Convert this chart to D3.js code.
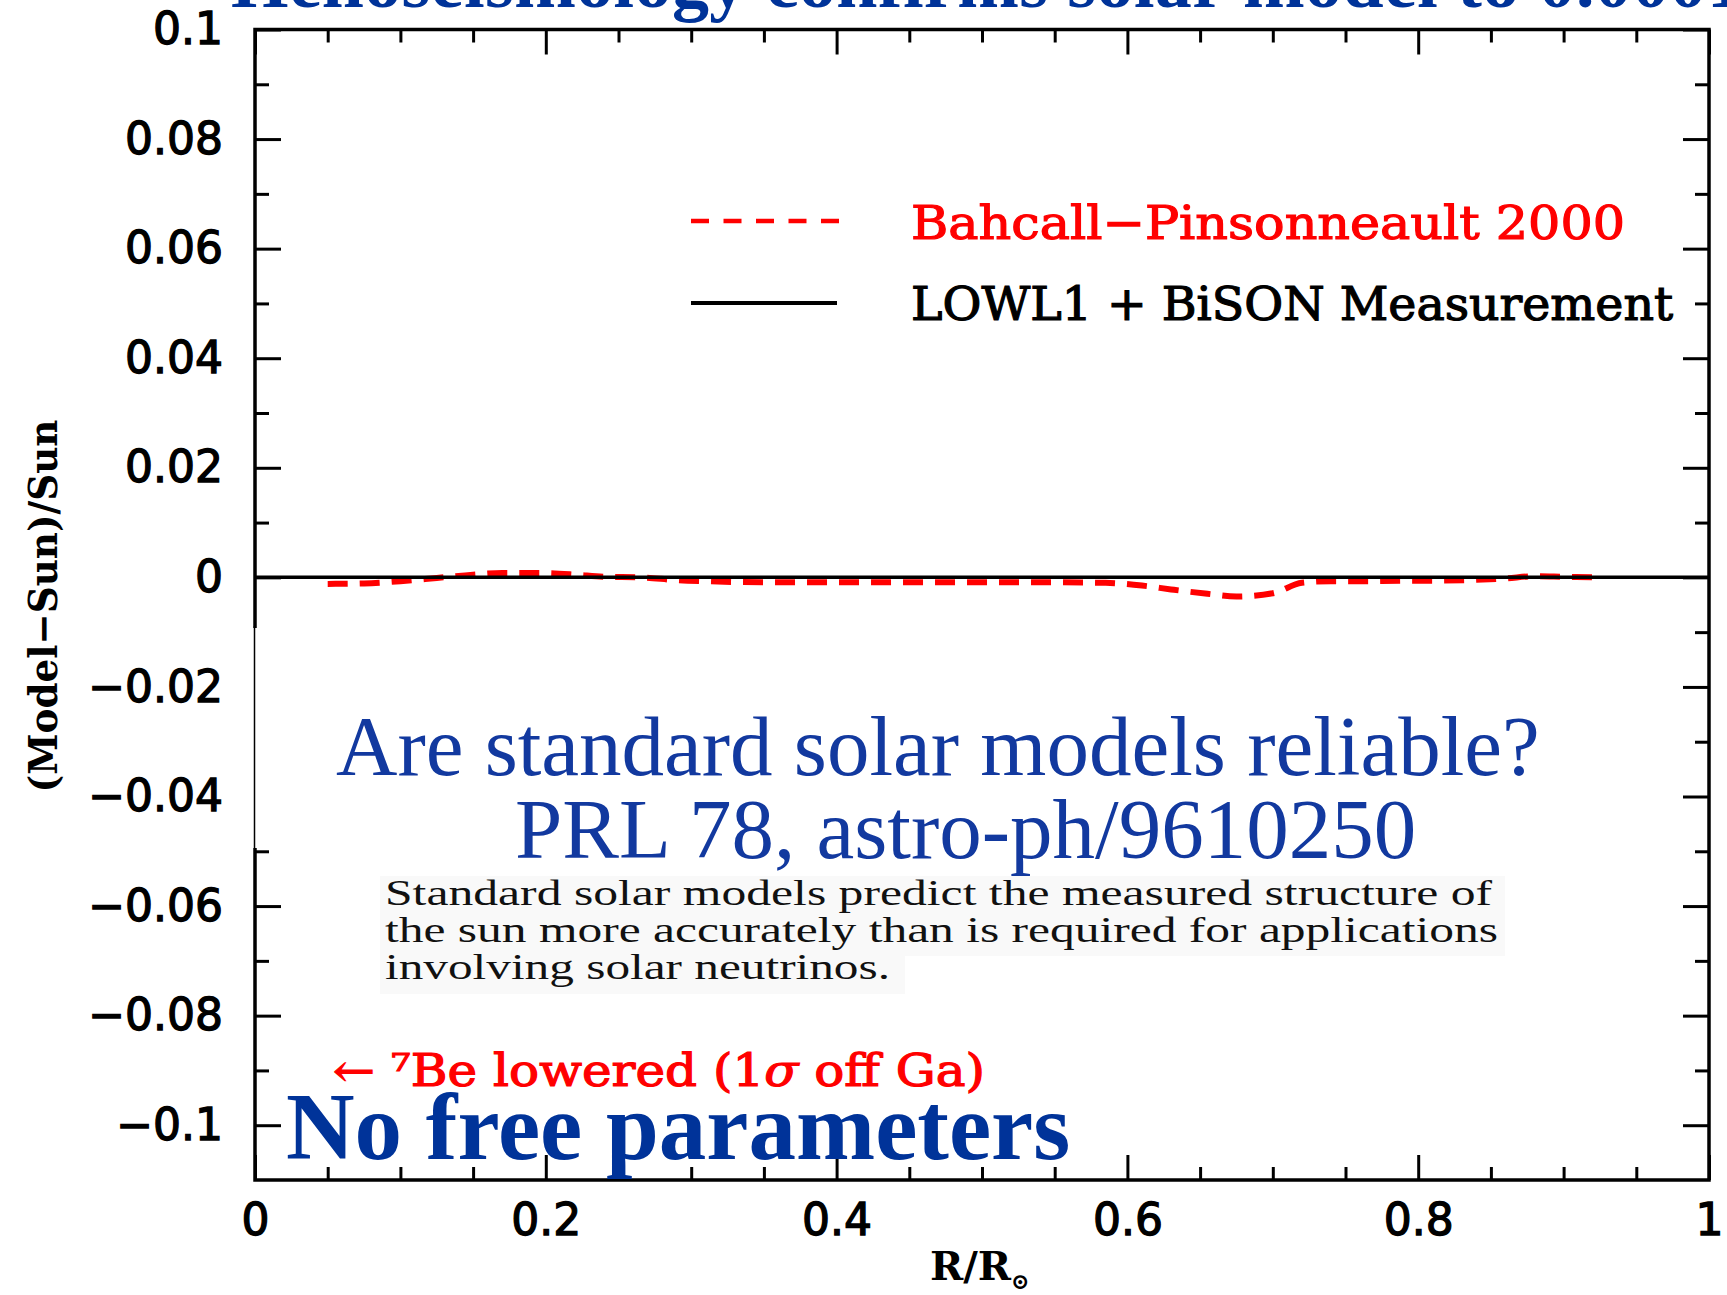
<!DOCTYPE html>
<html><head><meta charset="utf-8">
<script src="https://cdn.jsdelivr.net/npm/d3@7"></script>
<style>html,body{margin:0;padding:0;background:#fff;overflow:hidden}</style>
</head><body>
<svg id="c" width="1727" height="1295"></svg>
<script>
// ---- data ----
const xMajorTicks = [0, 0.2, 0.4, 0.6, 0.8, 1];
const xTickLabels = ["0", "0.2", "0.4", "0.6", "0.8", "1"];
const xMinorTicks = [0.05, 0.1, 0.15, 0.25, 0.3, 0.35, 0.45, 0.5, 0.55, 0.65, 0.7, 0.75, 0.85, 0.9, 0.95];
const yMajorTicks = [0.1, 0.08, 0.06, 0.04, 0.02, 0, -0.02, -0.04, -0.06, -0.08, -0.1];
const yTickLabels = ["0.1", "0.08", "0.06", "0.04", "0.02", "0", "\u22120.02", "\u22120.04", "\u22120.06", "\u22120.08", "\u22120.1"];
const yMinorTicks = [0.09, 0.07, 0.05, 0.03, 0.01, -0.01, -0.03, -0.05, -0.07, -0.09];

// Bahcall-Pinsonneault 2000 model: (Model-Sun)/Sun vs R/Rsun
const bpRadius = [0.05, 0.075, 0.10, 0.125, 0.15, 0.17, 0.195, 0.22, 0.24, 0.265, 0.29, 0.31, 0.35, 0.40, 0.45, 0.50, 0.55, 0.585, 0.61, 0.63, 0.655, 0.675, 0.70, 0.72, 0.74, 0.76, 0.79, 0.81, 0.835, 0.86, 0.88, 0.90, 0.92];
const bpDelta  = [-0.0012, -0.0011, -0.0007, -0.0001, 0.0005, 0.0008, 0.0008, 0.0005, 0.0001, 0.0, -0.0005, -0.0007, -0.0009, -0.0009, -0.0009, -0.0009, -0.0009, -0.001, -0.0015, -0.0022, -0.003, -0.0035, -0.0029, -0.001, -0.0007, -0.0007, -0.0006, -0.0006, -0.0005, -0.0002, 0.0002, 0.0001, 0.0];
// LOWL1 + BiSON measurement (reference line)
const sunRadius = [0, 1];
const sunDelta  = [0, 0];

const legendLabels = ["Bahcall\u2212Pinsonneault 2000", "LOWL1 + BiSON Measurement"];

// ---- layout ----
const L = 255, R = 1709, T = 29.5, B = 1180;
const svg = d3.select("#c");
const x = d3.scaleLinear([0, 1], [L, R]);
const y = d3.scaleLinear([-0.11, 0.1], [B, T]);

const BLUE = "#003399";
const tickFont = "'DejaVu Sans', sans-serif";
const plotFont = "'DejaVu Serif', serif";
const serif = "'Liberation Serif', 'Times New Roman', serif";

// title (mostly cut off at top)
svg.append("text")
  .attr("x", 231).attr("y", 7)
  .attr("font-family", serif)
  .attr("font-weight", "bold").attr("font-size", 74)
  .attr("fill", BLUE)
  .attr("textLength", 1513).attr("lengthAdjust", "spacing")
  .text("Helioseismology confirms solar model to 0.0001");

// data lines
const line = d3.line().x(d => x(d[0])).y(d => y(d[1])).curve(d3.curveMonotoneX);
svg.append("path")
  .datum(bpRadius.map((r, i) => [r, bpDelta[i]]))
  .attr("d", line).attr("fill", "none")
  .attr("stroke", "#ff0000").attr("stroke-width", 6)
  .attr("stroke-dasharray", "20,12");
svg.append("path")
  .datum(sunRadius.map((r, i) => [r, sunDelta[i]]))
  .attr("d", d3.line().x(d => x(d[0])).y(d => y(d[1])))
  .attr("fill", "none").attr("stroke", "#000").attr("stroke-width", 3.5);

// axes
function styleAxis(g) {
  g.select(".domain").remove();
  g.selectAll(".tick line").attr("stroke", "#000").attr("stroke-width", 3);
}
function styleLabels(sel) {
  sel.attr("font-family", tickFont).attr("font-size", 44).attr("fill", "#000")
    .attr("stroke", "#000").attr("stroke-width", 1.3);
}
const gxB = svg.append("g").attr("transform", `translate(0,${B})`)
  .call(d3.axisBottom(x).tickValues(xMajorTicks).tickSize(-25).tickSizeOuter(0)
    .tickFormat((d, i) => xTickLabels[i]));
styleAxis(gxB);
gxB.selectAll(".tick text").attr("y", 55).attr("dy", 0).call(styleLabels);
svg.append("g").attr("transform", `translate(0,${B})`)
  .call(d3.axisBottom(x).tickValues(xMinorTicks).tickSize(-13).tickSizeOuter(0).tickFormat(""))
  .call(styleAxis);
svg.append("g").attr("transform", `translate(0,${T})`)
  .call(d3.axisTop(x).tickValues(xMajorTicks).tickSize(-25).tickSizeOuter(0).tickFormat(""))
  .call(styleAxis);
svg.append("g").attr("transform", `translate(0,${T})`)
  .call(d3.axisTop(x).tickValues(xMinorTicks).tickSize(-13).tickSizeOuter(0).tickFormat(""))
  .call(styleAxis);

const gyL = svg.append("g").attr("transform", `translate(${L},0)`)
  .call(d3.axisLeft(y).tickValues(yMajorTicks).tickSize(-26).tickSizeOuter(0).tickPadding(32)
    .tickFormat((d, i) => yTickLabels[i]));
styleAxis(gyL);
gyL.selectAll(".tick text").call(styleLabels);
svg.append("g").attr("transform", `translate(${L},0)`)
  .call(d3.axisLeft(y).tickValues(yMinorTicks).tickSize(-14).tickSizeOuter(0).tickFormat(""))
  .call(styleAxis);
svg.append("g").attr("transform", `translate(${R},0)`)
  .call(d3.axisRight(y).tickValues(yMajorTicks).tickSize(-26).tickSizeOuter(0).tickFormat(""))
  .call(styleAxis);
svg.append("g").attr("transform", `translate(${R},0)`)
  .call(d3.axisRight(y).tickValues(yMinorTicks).tickSize(-14).tickSizeOuter(0).tickFormat(""))
  .call(styleAxis);

// frame
svg.append("rect").attr("x", L).attr("y", T).attr("width", R - L).attr("height", B - T)
  .attr("fill", "none").attr("stroke", "#000").attr("stroke-width", 3.5);

// pasted text box hides part of the left axis
svg.append("rect").attr("x", 250).attr("y", 628).attr("width", 40).attr("height", 220).attr("fill", "#fff");
svg.append("line").attr("x1", 254.5).attr("x2", 254.5).attr("y1", 626).attr("y2", 848)
  .attr("stroke", "#000").attr("stroke-width", 1.5);

// axis titles
svg.append("text").attr("transform", "translate(57,606) rotate(-90)")
  .attr("text-anchor", "middle").attr("font-family", plotFont).attr("font-weight", "bold")
  .attr("font-size", 40).attr("textLength", 373).attr("lengthAdjust", "spacingAndGlyphs")
  .text("(Model\u2212Sun)/Sun");
const xt = svg.append("text").attr("x", 930).attr("y", 1280)
  .attr("font-family", plotFont).attr("font-weight", "bold").attr("font-size", 40);
xt.append("tspan").text("R/R");
xt.append("tspan").attr("font-size", 22).attr("dy", 9).text("\u2299");

// legend
svg.append("line").attr("x1", 691).attr("x2", 839).attr("y1", 221).attr("y2", 221)
  .attr("stroke", "#ff0000").attr("stroke-width", 4.5).attr("stroke-dasharray", "18,14.5");
svg.append("text").attr("x", 911).attr("y", 239)
  .attr("font-family", plotFont).attr("font-size", 47).attr("fill", "#ff0000")
  .attr("stroke", "#ff0000").attr("stroke-width", 1.2)
  .attr("textLength", 714).attr("lengthAdjust", "spacingAndGlyphs").text(legendLabels[0]);
svg.append("line").attr("x1", 691).attr("x2", 837).attr("y1", 303).attr("y2", 303)
  .attr("stroke", "#000").attr("stroke-width", 4);
svg.append("text").attr("x", 911).attr("y", 320)
  .attr("font-family", plotFont).attr("font-size", 47).attr("fill", "#000")
  .attr("stroke", "#000").attr("stroke-width", 1.2)
  .attr("textLength", 762).attr("lengthAdjust", "spacingAndGlyphs").text(legendLabels[1]);

// overlay texts
svg.append("text").attr("x", 336).attr("y", 775).attr("font-family", serif)
  .attr("font-size", 85).attr("fill", "#12399f").text("Are standard solar models reliable?");
svg.append("text").attr("x", 515).attr("y", 858).attr("font-family", serif)
  .attr("font-size", 85).attr("fill", "#12399f").text("PRL 78, astro-ph/9610250");

svg.append("rect").attr("x", 380).attr("y", 876).attr("width", 1125).attr("height", 80).attr("fill", "#f9f9f9");
svg.append("rect").attr("x", 380).attr("y", 956).attr("width", 525).attr("height", 38).attr("fill", "#f9f9f9");
const para = [
  ["Standard solar models predict the measured structure of", 1107, 905],
  ["the sun more accurately than is required for applications", 1113, 942],
  ["involving solar neutrinos.", 505, 979]
];
para.forEach(p => {
  svg.append("text").attr("x", 385).attr("y", p[2]).attr("font-family", serif)
    .attr("font-size", 36).attr("fill", "#111")
    .attr("textLength", p[1]).attr("lengthAdjust", "spacingAndGlyphs").text(p[0]);
});

const ann = svg.append("text").attr("x", 333).attr("y", 1086)
  .attr("font-family", plotFont).attr("font-size", 44).attr("fill", "#ff0000")
  .attr("stroke", "#ff0000").attr("stroke-width", 1.2)
  .attr("textLength", 652).attr("lengthAdjust", "spacingAndGlyphs");
ann.append("tspan").text("\u2190 \u2077Be lowered (1");
ann.append("tspan").attr("font-style", "italic").text("\u03c3");
ann.append("tspan").text(" off Ga)");

svg.append("text").attr("x", 286).attr("y", 1159).attr("font-family", serif)
  .attr("font-weight", "bold").attr("font-size", 95).attr("fill", BLUE).text("No free parameters");
</script>
</body></html>
